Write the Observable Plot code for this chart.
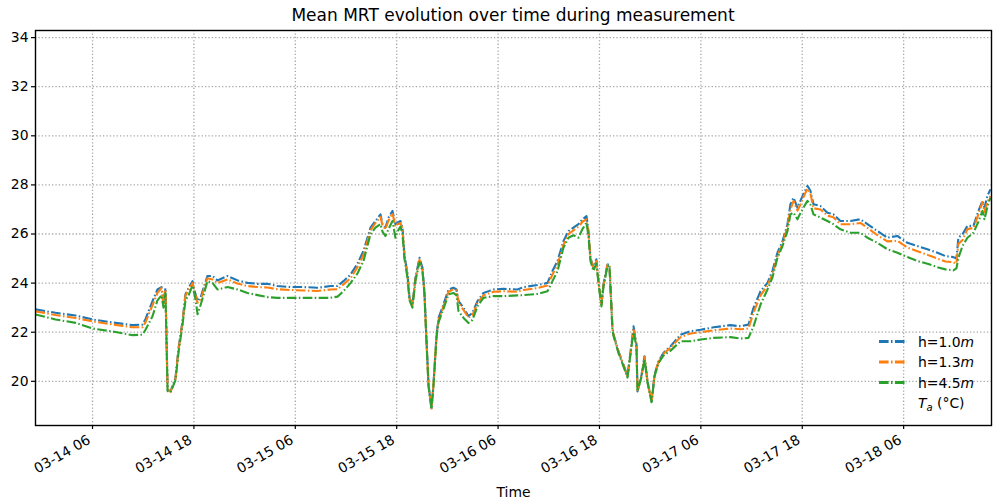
<!DOCTYPE html>
<html>
<head>
<meta charset="utf-8">
<script src="https://cdn.jsdelivr.net/npm/d3@7"></script>
<script src="https://cdn.jsdelivr.net/npm/@observablehq/plot@0.6"></script>
<style>
  html, body { margin: 0; padding: 0; background: #fff; }
  #wrap { position: relative; width: 993px; height: 501px; font-family: "DejaVu Sans", sans-serif; }
  #title { position: absolute; left: 35px; width: 956px; top: 5px; text-align: center; font-size: 17px; color: #000; }
  #legend { position: absolute; left: 0; top: 0; pointer-events: none; }
</style>
</head>
<body>
<div id="wrap">
  <div id="chart"></div>
  <div id="title">Mean MRT evolution over time during measurement</div>
</div>
<script>
// ---- data ----
const times = [
  "03-13 23:15","03-14 01:37","03-14 04:00","03-14 06:00","03-14 08:43","03-14 10:44","03-14 11:55","03-14 12:16",
  "03-14 13:06","03-14 13:41","03-14 14:10","03-14 14:24","03-14 14:38","03-14 14:53","03-14 15:14","03-14 15:49",
  "03-14 16:11","03-14 16:39","03-14 17:00","03-14 17:22","03-14 17:50","03-14 18:11","03-14 18:26","03-14 18:47",
  "03-14 19:08","03-14 19:36","03-14 20:12","03-14 20:47","03-14 21:59","03-14 23:10","03-15 00:20","03-15 01:32",
  "03-15 02:43","03-15 03:53","03-15 05:26","03-15 06:58","03-15 08:38","03-15 10:10","03-15 11:00","03-15 11:42",
  "03-15 12:32","03-15 13:22","03-15 14:04","03-15 14:54","03-15 15:29","03-15 16:05","03-15 16:19","03-15 16:40",
  "03-15 17:02","03-15 17:30","03-15 17:51","03-15 18:05","03-15 18:27","03-15 18:41","03-15 18:55","03-15 19:17",
  "03-15 19:31","03-15 19:52","03-15 20:13","03-15 20:42","03-15 21:03","03-15 21:17","03-15 21:32","03-15 21:46",
  "03-15 22:07","03-15 22:21","03-15 22:43","03-15 22:57","03-15 23:32","03-16 00:08","03-16 00:43","03-16 01:05",
  "03-16 01:19","03-16 01:55","03-16 02:30","03-16 02:58","03-16 03:34","03-16 04:16","03-16 05:27","03-16 06:38",
  "03-16 08:18","03-16 09:01","03-16 10:40","03-16 11:51","03-16 12:26","03-16 13:02","03-16 13:44","03-16 14:20",
  "03-16 14:55","03-16 15:31","03-16 15:59","03-16 16:28","03-16 16:42","03-16 16:56","03-16 17:17","03-16 17:38",
  "03-16 17:53","03-16 18:14","03-16 18:28","03-16 18:57","03-16 19:11","03-16 19:32","03-16 19:40","03-16 20:15",
  "03-16 20:51","03-16 21:19","03-16 21:47","03-16 22:02","03-16 22:23","03-16 22:30","03-16 22:59","03-16 23:20",
  "03-16 23:41","03-17 00:10","03-17 00:31","03-17 01:00","03-17 01:35","03-17 02:25","03-17 03:36","03-17 04:47",
  "03-17 05:58","03-17 07:31","03-17 09:31","03-17 10:42","03-17 11:38","03-17 12:14","03-17 13:04","03-17 13:53",
  "03-17 14:28","03-17 15:04","03-17 15:40","03-17 16:15","03-17 16:36","03-17 16:58","03-17 17:26","03-17 17:47",
  "03-17 18:08","03-17 18:37","03-17 18:58","03-17 19:20","03-17 20:09","03-17 20:59","03-17 21:41","03-17 22:31",
  "03-17 23:42","03-18 00:53","03-18 01:43","03-18 02:54","03-18 04:05","03-18 05:16","03-18 06:27","03-18 07:38",
  "03-18 08:49","03-18 10:00","03-18 10:57","03-18 11:53","03-18 12:15","03-18 12:29","03-18 12:58","03-18 13:33",
  "03-18 14:16","03-18 14:51","03-18 15:20","03-18 15:34","03-18 15:55","03-18 16:16"
];
const h10 = [
  22.93,22.79,22.68,22.52,22.38,22.29,22.31,22.53,
  23.27,23.74,23.84,23.14,23.80,19.66,19.59,20.14,
  21.36,22.45,23.55,23.80,24.08,23.55,23.27,23.40,
  23.80,24.29,24.29,24.11,24.29,24.11,24.01,23.97,
  23.97,23.88,23.84,23.84,23.81,23.88,23.88,24.08,
  24.35,24.80,25.31,26.26,26.53,26.80,26.40,26.26,
  26.67,26.94,26.40,26.46,26.53,26.26,25.17,24.36,
  23.40,23.13,24.22,25.03,24.62,23.67,21.63,19.86,
  18.90,19.86,21.90,22.58,23.13,23.74,23.81,23.74,
  23.27,22.99,22.65,22.79,23.27,23.60,23.74,23.77,
  23.74,23.84,23.92,24.01,24.49,24.90,25.71,26.12,
  26.26,26.40,26.60,26.73,26.12,25.03,24.62,24.97,
  24.08,23.13,23.95,24.76,24.76,22.18,21.90,21.22,
  20.67,20.20,21.50,22.24,21.50,19.59,20.27,21.02,
  20.00,19.18,20.27,20.82,21.16,21.43,21.90,22.04,
  22.10,22.20,22.29,22.24,22.31,22.99,23.67,24.01,
  24.49,25.24,25.71,26.40,27.21,27.48,27.07,27.35,
  27.62,27.96,27.76,27.21,27.14,26.87,26.80,26.53,
  26.53,26.60,26.40,26.12,25.85,25.92,25.64,25.51,
  25.38,25.24,25.10,25.06,25.00,25.85,25.99,26.33,
  26.33,26.94,27.35,27.07,27.55,27.82
];
const h13 = [
  22.85,22.70,22.58,22.44,22.30,22.20,22.20,22.40,
  23.10,23.60,23.80,23.10,23.75,19.66,19.58,20.10,
  21.30,22.40,23.50,23.70,24.00,23.50,23.20,23.30,
  23.70,24.20,24.15,24.00,24.15,23.98,23.88,23.84,
  23.82,23.75,23.72,23.70,23.68,23.74,23.75,23.95,
  24.20,24.65,25.15,26.15,26.45,26.70,26.35,26.20,
  26.55,26.85,26.30,26.40,26.45,26.20,25.10,24.30,
  23.35,23.10,24.15,24.95,24.55,23.60,21.60,19.85,
  18.90,19.85,21.85,22.50,23.05,23.65,23.75,23.70,
  23.20,22.90,22.60,22.70,23.20,23.50,23.65,23.67,
  23.65,23.72,23.80,23.90,24.35,24.75,25.55,26.00,
  26.15,26.30,26.50,26.60,26.05,25.00,24.60,24.90,
  24.05,23.10,23.90,24.75,24.75,22.15,21.88,21.20,
  20.65,20.20,21.45,22.15,21.45,19.60,20.25,21.00,
  20.00,19.18,20.25,20.80,21.12,21.38,21.80,21.95,
  22.00,22.08,22.15,22.12,22.15,22.80,23.50,23.90,
  24.35,25.10,25.60,26.30,27.00,27.35,26.95,27.20,
  27.50,27.85,27.65,27.05,27.00,26.75,26.68,26.40,
  26.40,26.45,26.25,25.95,25.70,25.72,25.45,25.30,
  25.15,25.00,24.88,24.85,24.80,25.60,25.75,26.20,
  26.25,26.80,27.30,26.90,27.30,27.55
];
const h45 = [
  22.72,22.52,22.38,22.15,22.01,21.88,21.90,22.10,
  22.65,23.30,23.50,23.00,23.60,19.60,19.55,20.05,
  21.20,22.30,23.30,23.50,23.90,23.35,22.73,23.10,
  23.50,24.08,24.01,23.74,23.84,23.74,23.60,23.51,
  23.43,23.40,23.40,23.40,23.40,23.40,23.45,23.67,
  24.00,24.40,24.90,25.99,26.26,26.40,26.10,25.92,
  26.20,26.53,25.85,26.10,26.30,26.00,25.00,24.20,
  23.30,23.00,24.10,24.85,24.50,23.55,21.55,19.80,
  18.88,19.80,21.80,22.40,22.95,23.54,23.60,23.50,
  22.86,22.58,22.38,22.50,23.06,23.40,23.47,23.47,
  23.50,23.51,23.56,23.67,24.08,24.49,25.44,25.85,
  25.95,25.85,26.20,26.46,25.90,24.90,24.50,24.80,
  24.00,23.05,23.85,24.70,24.70,22.10,21.85,21.15,
  20.60,20.15,21.40,22.00,21.40,19.60,20.20,20.90,
  19.95,19.15,20.20,20.75,21.05,21.25,21.63,21.63,
  21.70,21.77,21.80,21.74,21.77,22.24,23.13,23.74,
  24.22,25.03,25.51,26.12,26.80,26.87,26.60,26.85,
  27.07,27.35,27.20,26.80,26.67,26.53,26.40,26.19,
  26.05,26.05,25.85,25.64,25.38,25.24,25.06,24.90,
  24.79,24.65,24.56,24.52,24.60,25.03,25.51,25.85,
  26.05,26.50,26.94,26.60,27.10,27.48
];
const seriesNames = ["h=1.0m", "h=1.3m", "h=4.5m"];
const seriesColors = ["#1f77b4", "#ff7f0e", "#2ca02c"];
const xTickLabels = ["03-14 06","03-14 18","03-15 06","03-15 18","03-16 06","03-16 18","03-17 06","03-17 18","03-18 06"];
const yTicks = [20, 22, 24, 26, 28, 30, 32, 34];
const xDomainLabels = ["03-13 23:15", "03-18 16:24"];
const yDomain = [18.2, 34.29];

// ---- build ----
const YEAR = "2019-";
const parseT = s => new Date(YEAR + s.slice(0, 5) + "T" + s.slice(6) + (s.length > 8 ? ":00Z" : ":00:00Z"));
const seriesVals = [h10, h13, h45];
const rows = [];
seriesVals.forEach((vals, si) => {
  vals.forEach((v, i) => rows.push({time: parseT(times[i]), value: v, series: seriesNames[si]}));
});
const xTicks = xTickLabels.map(parseT);
const fmt = d3.utcFormat("%m-%d %H");

const dashdot = "9.6,2.4,1.5,2.4";
const gridStyle = {stroke: "#a8a8a8", strokeOpacity: 1, strokeWidth: 1.3, strokeDasharray: "1.3,2.1"};
const FS = 13.9;

const chart = Plot.plot({
  width: 993,
  height: 501,
  marginLeft: 35,
  marginRight: 2,
  marginTop: 30,
  marginBottom: 76,
  style: {fontFamily: "DejaVu Sans, sans-serif", fontSize: FS + "px", color: "#000", background: "#fff"},
  x: {type: "utc", domain: xDomainLabels.map(parseT)},
  y: {domain: yDomain},
  color: {domain: seriesNames, range: seriesColors},
  marks: [
    Plot.gridX(xTicks, gridStyle),
    Plot.gridY(yTicks, gridStyle),
    Plot.line(rows, {x: "time", y: "value", z: "series", stroke: "series", strokeWidth: 2.1,
      strokeDasharray: dashdot, strokeLinecap: "butt", strokeLinejoin: "round"}),
    Plot.frame({stroke: "#000", strokeWidth: 1.4}),
    Plot.axisY(yTicks, {anchor: "left", tickSize: 4, tickPadding: 3, label: null, tickFormat: d => String(d), strokeWidth: 1.2, fontSize: FS}),
    Plot.axisX(xTicks, {anchor: "bottom", tickSize: 4, text: null, label: null, strokeWidth: 1.2}),
    Plot.text(xTicks, {x: d => d, text: fmt, frameAnchor: "bottom", dy: 17, dx: -1, rotate: -30,
      textAnchor: "end", lineAnchor: "bottom", fontSize: FS, fill: "#000"}),
    Plot.text(["Time"], {frameAnchor: "bottom", dy: 71, lineAnchor: "bottom", fontSize: FS, fill: "#000"})
  ]
});
document.getElementById("chart").appendChild(chart);

// ---- legend overlay ----
const ns = "http://www.w3.org/2000/svg";
const lg = document.createElementNS(ns, "svg");
lg.setAttribute("id", "legend");
lg.setAttribute("width", 993);
lg.setAttribute("height", 501);
const legendEntries = [
  {base: "h=1.0", unit: "m", color: seriesColors[0]},
  {base: "h=1.3", unit: "m", color: seriesColors[1]},
  {base: "h=4.5", unit: "m", color: seriesColors[2]}
];
legendEntries.forEach((e, i) => {
  const y = 341.5 + i * 20.5;
  const ln = document.createElementNS(ns, "line");
  ln.setAttribute("x1", 879); ln.setAttribute("x2", 907);
  ln.setAttribute("y1", y); ln.setAttribute("y2", y);
  ln.setAttribute("stroke", e.color); ln.setAttribute("stroke-width", 3);
  ln.setAttribute("stroke-dasharray", dashdot);
  lg.appendChild(ln);
  const t = document.createElementNS(ns, "text");
  t.setAttribute("x", 918); t.setAttribute("y", y + 5);
  t.setAttribute("font-family", "DejaVu Sans, sans-serif");
  t.setAttribute("font-size", FS + "px");
  t.textContent = e.base;
  const ts = document.createElementNS(ns, "tspan");
  ts.setAttribute("font-style", "italic");
  ts.textContent = e.unit;
  t.appendChild(ts);
  lg.appendChild(t);
});
const ta = document.createElementNS(ns, "text");
ta.setAttribute("x", 918); ta.setAttribute("y", 408);
ta.setAttribute("font-family", "DejaVu Sans, sans-serif");
ta.setAttribute("font-size", FS + "px");
const tT = document.createElementNS(ns, "tspan"); tT.setAttribute("font-style", "italic"); tT.textContent = "T";
const tA = document.createElementNS(ns, "tspan"); tA.setAttribute("font-style", "italic"); tA.setAttribute("font-size", "10px"); tA.setAttribute("dy", "3"); tA.textContent = "a";
const tR = document.createElementNS(ns, "tspan"); tR.setAttribute("dy", "-3"); tR.textContent = " (°C)";
ta.appendChild(tT); ta.appendChild(tA); ta.appendChild(tR);
lg.appendChild(ta);
document.getElementById("wrap").appendChild(lg);
</script>
</body>
</html>
